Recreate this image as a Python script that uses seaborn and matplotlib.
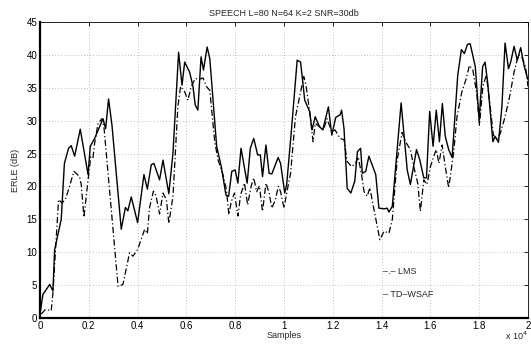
import numpy as np
import pandas as pd
import matplotlib
matplotlib.use("Agg")
import matplotlib.pyplot as plt
import seaborn as sns

# TD-WSAF (solid) -- x in units of 10^4 samples, y ERLE dB
tdwsaf_x = [0.0, 0.012, 0.04, 0.053, 0.06, 0.087, 0.10, 0.117, 0.128, 0.142, 0.165, 0.197, 0.206, 0.224,
            0.258, 0.269, 0.281, 0.295, 0.333, 0.35, 0.36, 0.374, 0.40, 0.426, 0.44, 0.456, 0.467, 0.49,
            0.504, 0.528, 0.545, 0.568, 0.582, 0.593, 0.613, 0.627, 0.636, 0.647, 0.66, 0.67, 0.685,
            0.696, 0.724, 0.743, 0.762, 0.773, 0.786, 0.80, 0.811, 0.824, 0.849, 0.862, 0.876, 0.892,
            0.903, 0.912, 0.926, 0.939, 0.95, 0.976, 0.986, 1.003, 1.011, 1.031, 1.054, 1.068, 1.085,
            1.105, 1.115, 1.128, 1.145, 1.159, 1.182, 1.196, 1.212, 1.23, 1.236, 1.246, 1.259, 1.274,
            1.29, 1.301, 1.314, 1.321, 1.335, 1.348, 1.376, 1.389, 1.41, 1.423, 1.43, 1.444, 1.48,
            1.505, 1.518, 1.543, 1.556, 1.573, 1.584, 1.597, 1.611, 1.624, 1.637, 1.649, 1.661, 1.675,
            1.689, 1.712, 1.727, 1.739, 1.752, 1.763, 1.784, 1.80, 1.814, 1.824, 1.835, 1.856, 1.865,
            1.879, 1.893, 1.906, 1.92, 1.929, 1.943, 1.956, 1.97, 1.985, 2.0]
tdwsaf_y = [0.6, 3.6, 5.1, 4.1, 10.4, 15.0, 23.5, 25.8, 26.2, 24.6, 28.7, 21.8, 26.1, 27.3,
            30.3, 28.8, 33.3, 29.3, 13.5, 16.8, 16.3, 18.4, 14.5, 21.8, 19.6, 23.3, 23.5, 21.0,
            24.0, 18.9, 25.1, 40.4, 35.4, 38.9, 37.4, 35.2, 32.4, 31.6, 39.7, 37.7, 41.2,
            39.4, 26.1, 23.0, 18.7, 18.5, 22.3, 22.5, 20.5, 25.8, 20.5, 25.8, 27.3, 24.8,
            24.8, 21.5, 26.3, 22.0, 21.9, 24.4, 23.5, 19.0, 20.3, 28.8, 39.2, 38.9, 33.1,
            31.4, 28.6, 30.6, 29.1, 28.6, 32.1, 27.8, 30.5, 30.9, 31.6, 28.8, 19.7, 19.0,
            20.8, 25.3, 25.8, 22.0, 22.3, 24.6, 21.8, 16.7, 16.6, 16.7, 16.1, 17.0, 32.7,
            22.5, 20.3, 25.6, 24.1, 21.3, 21.3, 31.4, 26.1, 31.6, 26.8, 32.6, 27.6, 25.6,
            24.4, 36.9, 40.8, 40.2, 41.6, 41.7, 38.2, 30.1, 38.2, 38.9, 35.7, 26.8, 27.6,
            26.7, 32.1, 41.8, 37.9, 38.9, 41.3, 39.2, 41.1, 38.2, 36.2]

# LMS (dash-dot)
lms_x = [0.005, 0.022, 0.046, 0.053, 0.067, 0.076, 0.09, 0.104, 0.121, 0.139, 0.162, 0.169, 0.18, 0.194,
         0.208, 0.217, 0.224, 0.238, 0.254, 0.262, 0.32, 0.34, 0.367, 0.381, 0.40, 0.429, 0.44, 0.449,
         0.465, 0.476, 0.49, 0.504, 0.518, 0.528, 0.545, 0.565, 0.576, 0.593, 0.606, 0.62, 0.636,
         0.654, 0.668, 0.682, 0.696, 0.716, 0.73, 0.75, 0.764, 0.774, 0.784, 0.797, 0.811, 0.822,
         0.838, 0.851, 0.865, 0.876, 0.888, 0.899, 0.912, 0.926, 0.939, 0.95, 0.964, 0.977, 0.986,
         1.0, 1.011, 1.027, 1.047, 1.068, 1.081, 1.09, 1.105, 1.119, 1.128, 1.145, 1.162, 1.176,
         1.196, 1.209, 1.23, 1.246, 1.259, 1.277, 1.293, 1.304, 1.318, 1.328, 1.341, 1.352, 1.366,
         1.38, 1.393, 1.41, 1.43, 1.444, 1.464, 1.484, 1.498, 1.518, 1.532, 1.548, 1.559, 1.573,
         1.586, 1.6, 1.614, 1.624, 1.635, 1.648, 1.661, 1.675, 1.695, 1.709, 1.729, 1.747, 1.76,
         1.774, 1.79, 1.801, 1.815, 1.829, 1.842, 1.858, 1.872, 1.886, 1.906, 1.926, 1.943, 1.961,
         1.974, 1.99, 2.0]
lms_y = [0.6, 1.3, 1.1, 3.8, 12.4, 18.0, 17.5, 18.0, 20.0, 22.3, 21.5, 20.3, 15.3, 20.0,
         24.5, 24.3, 26.6, 29.6, 30.3, 29.1, 4.8, 5.1, 9.9, 9.4, 10.4, 13.5, 12.8, 16.8,
         19.3, 18.5, 15.8, 19.0, 18.0, 14.4, 18.5, 32.1, 35.2, 34.4, 33.1, 35.2, 36.4,
         36.3, 36.5, 35.2, 34.6, 26.8, 24.0, 21.8, 19.5, 15.7, 17.7, 19.0, 15.5, 18.7,
         20.5, 17.2, 20.0, 21.3, 19.2, 20.1, 16.2, 20.5, 19.0, 16.7, 17.9, 20.0, 19.2,
         16.7, 19.0, 22.0, 30.6, 34.4, 36.7, 35.4, 31.4, 26.8, 29.6, 29.1, 28.6, 30.3,
         28.3, 28.6, 27.3, 27.1, 23.8, 23.0, 23.5, 24.5, 21.8, 19.2, 18.5, 19.8, 17.0,
         14.4, 11.9, 13.2, 12.9, 15.0, 24.1, 28.2, 26.8, 25.6, 23.0, 20.5, 16.2, 21.0,
         20.3, 23.0, 24.6, 25.6, 23.5, 26.3, 23.0, 19.8, 25.1, 30.6, 34.4, 36.4, 38.4,
         37.7, 34.1, 29.3, 35.2, 36.9, 33.1, 27.8, 27.3, 28.0, 30.6, 33.9, 37.4, 40.0,
         39.7, 38.2, 35.2]

title = "SPEECH L=80 N=64 K=2 SNR=30db"
x_ticks = [0, 0.2, 0.4, 0.6, 0.8, 1, 1.2, 1.4, 1.6, 1.8, 2]
x_tick_labels = ["0", "0.2", "0.4", "0.6", "0.8", "1", "1.2", "1.4", "1.6", "1.8", "2"]
y_ticks = [0, 5, 10, 15, 20, 25, 30, 35, 40, 45]

sns.set_theme(style="white")
plt.rcParams['font.family'] = ['Liberation Sans', 'DejaVu Sans']

fig = plt.figure(figsize=(5.31, 3.48), dpi=100)
ax = fig.add_axes([40/531, 30/348, 488/531, 296/348])

df_t = pd.DataFrame({"x": tdwsaf_x, "y": tdwsaf_y})
df_l = pd.DataFrame({"x": lms_x, "y": lms_y})
sns.lineplot(data=df_l, x="x", y="y", ax=ax, color="black", lw=0.9, sort=False,
             estimator=None, linestyle=(0, (5, 2, 1, 2)))
sns.lineplot(data=df_t, x="x", y="y", ax=ax, color="black", lw=1.0, sort=False, estimator=None)

ax.set_xlim(0, 2)
ax.set_ylim(0, 45)
ax.set_xticks(x_ticks)
ax.set_xticklabels(x_tick_labels)
ax.set_yticks(y_ticks)
ax.grid(True, color="#aaaaaa", linestyle=(0, (1, 2.5)), linewidth=0.6)
ax.tick_params(axis="both", direction="in", length=3, width=0.6, labelsize=7, colors="black",
               top=True, right=True, pad=2)
for s in ["left", "bottom"]:
    ax.spines[s].set_linewidth(1.6)
for s in ["top", "right"]:
    ax.spines[s].set_linewidth(0.6)
for s in ax.spines.values():
    s.set_color("black")

ax.set_title(title, fontsize=6.5, pad=4)
ax.set_xlabel("Samples", fontsize=6.5, labelpad=0)
ax.set_ylabel("ERLE (dB)", fontsize=6.5, labelpad=5)
ax.text(1.0, -0.04, r"x 10$^4$", transform=ax.transAxes, fontsize=6.5, ha="right", va="top")

ax.text(0.703, 0.157, "\u2013.\u2013 LMS", transform=ax.transAxes, fontsize=6.5, va="center")
ax.text(0.703, 0.078, "\u2013 TD\u2013WSAF", transform=ax.transAxes, fontsize=6.5, va="center")

fig.savefig("out.png", dpi=100)
